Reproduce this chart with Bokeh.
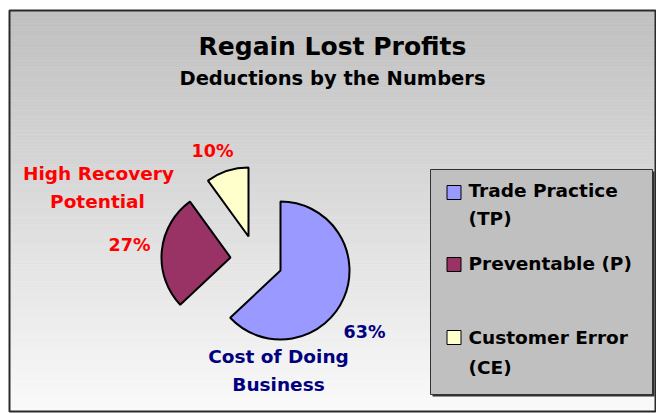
import numpy as np
from bokeh.plotting import figure
from bokeh.models import Range1d, ColumnDataSource
from bokeh.core.properties import value
from bokeh.embed import file_html
from bokeh.resources import INLINE

# ---- data ----
categories = ["Trade Practice (TP)", "Preventable (P)", "Customer Error (CE)"]
shares = [63, 27, 10]
slice_colors = ["#9999ff", "#993366", "#ffffcc"]
pct_labels = ["63%", "27%", "10%"]
legend_line1 = ["Trade Practice", "Preventable (P)", "Customer Error"]
legend_line2 = ["(TP)", "", "(CE)"]
title_text = "Regain Lost Profits"
subtitle_text = "Deductions by the Numbers"

W, H = 656, 413
FONT = value("DejaVu Sans")
SHIFT = 7  # baseline correction for the svg text renderer


def Y(y_img):
    return H - y_img


def YT(base_img):
    return H - (base_img - SHIFT)


p = figure(width=W, height=H, x_range=Range1d(0, W), y_range=Range1d(0, H),
           output_backend="svg", toolbar_location=None, min_border=0,
           background_fill_color="white", border_fill_color="white")
p.axis.visible = False
p.grid.visible = False
p.outline_line_color = None

# ---- frame with vertical gradient ----
fx0, fx1, fy0, fy1 = 9, 655, 10, 411
n = 120
edges = np.linspace(fy0, fy1, n + 1)
levels = np.linspace(192, 250, n).astype(int)
cols = ["#%02x%02x%02x" % (v, v, v) for v in levels]
p.quad(left=fx0, right=fx1, top=[Y(e) for e in edges[:-1]],
       bottom=[Y(e) for e in edges[1:]], fill_color=cols, line_color=cols,
       line_width=0.6)
p.quad(left=fx0, right=fx1, top=Y(fy0), bottom=Y(fy1), fill_color=None,
       line_color="#2a2a2a", line_width=2)

# ---- pie ----
cx, cy, r = 280, 270, 69
explode = [(0, 0), (-50, 13), (-32, 34)]
vals = np.array(shares, dtype=float)
frac = vals / vals.sum()
before = np.concatenate([[0], np.cumsum(frac)[:-1]])
after = np.cumsum(frac)
src = ColumnDataSource(dict(
    x=[cx + dx for dx, dy in explode],
    y=[Y(cy) + dy for dx, dy in explode],
    start=list(np.radians(90 - after * 360)),
    end=list(np.radians(90 - before * 360)),
    color=slice_colors,
))
p.wedge(x="x", y="y", radius=r, start_angle="start", end_angle="end",
        direction="anticlock", fill_color="color",
        line_color="black", line_width=2, source=src)

# ---- titles ----
p.text(x=[332], y=[YT(53)], text=[title_text], text_font=FONT,
       text_font_style="bold", text_font_size="25px", text_color="black",
       text_align="center", text_baseline="alphabetic")
p.text(x=[332], y=[YT(85)], text=[subtitle_text], text_font=FONT,
       text_font_style="bold", text_font_size="19.5px", text_color="black",
       text_align="center", text_baseline="alphabetic")

# ---- slice annotations ----
navy, red = "#000080", "#ff0000"
ann_x = [364, 129, 212]
ann_base = [338, 251, 157]
ann_col = [navy, red, red]
p.text(x=ann_x, y=[YT(b) for b in ann_base], text=pct_labels, text_font=FONT,
       text_font_style="bold", text_font_size="17.5px", text_color=ann_col,
       text_align="center", text_baseline="alphabetic")
p.text(x=[278, 278], y=[YT(363), YT(391)], text=["Cost of Doing", "Business"],
       text_font=FONT, text_font_style="bold", text_font_size="18.5px",
       text_color=navy, text_align="center", text_baseline="alphabetic")
p.text(x=[98, 97], y=[YT(180), YT(208)], text=["High Recovery", "Potential"],
       text_font=FONT, text_font_style="bold", text_font_size="18.5px",
       text_color=red, text_align="center", text_baseline="alphabetic")

# ---- legend ----
lx0, lx1, ly0, ly1 = 430, 652, 169, 394
p.quad(left=lx0 + 2, right=lx1 + 2, top=Y(ly0 + 2), bottom=Y(ly1 + 2),
       fill_color="#303030", line_color=None)
p.quad(left=lx0, right=lx1, top=Y(ly0), bottom=Y(ly1), fill_color="#c0c0c0",
       line_color="#333333", line_width=1)
sw_y = [192, 264, 337]
base1 = [197, 270, 344]
base2 = [225, 0, 374]
p.rect(x=[453.5] * 3, y=[Y(v) for v in sw_y], width=14, height=14,
       fill_color=slice_colors, line_color="black", line_width=1)
p.text(x=[468] * 3, y=[YT(b) for b in base1], text=legend_line1, text_font=FONT,
       text_font_style="bold", text_font_size="18.5px", text_color="black",
       text_align="left", text_baseline="alphabetic")
l2 = [(t, b) for t, b in zip(legend_line2, base2) if t]
p.text(x=[468] * len(l2), y=[YT(b) for t, b in l2], text=[t for t, b in l2],
       text_font=FONT, text_font_style="bold", text_font_size="18.5px",
       text_color="black", text_align="left", text_baseline="alphabetic")

open("out.html", "w").write(file_html(p, INLINE))
